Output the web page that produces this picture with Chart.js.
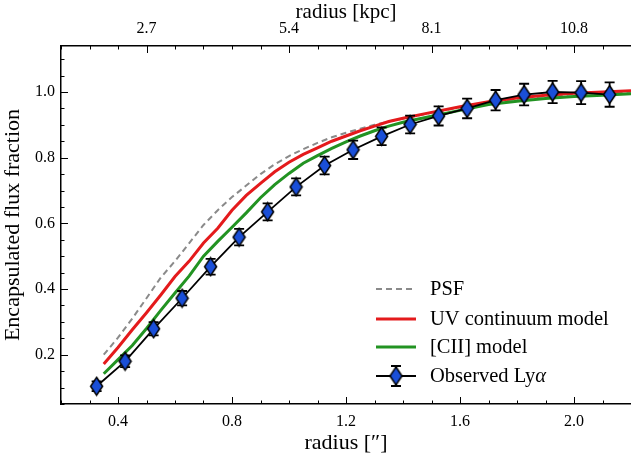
<!DOCTYPE html>
<html>
<head>
<meta charset="utf-8">
<title>Encapsulated flux fraction</title>
<script src="https://cdn.jsdelivr.net/npm/chart.js"></script>
<style>
  html, body { margin: 0; padding: 0; background: #fff; }
</style>
</head>
<body>
<canvas id="myChart" width="631" height="457"></canvas>
<script>
// observed Ly-alpha curve of growth
const obsRadius = [0.325, 0.425, 0.525, 0.625, 0.725, 0.825, 0.925, 1.025, 1.125, 1.225,
                   1.325, 1.425, 1.525, 1.625, 1.725, 1.825, 1.925, 2.025, 2.125];
const obsFlux = [0.104, 0.180, 0.279, 0.372, 0.468, 0.558, 0.635, 0.711, 0.776, 0.824,
                 0.865, 0.901, 0.927, 0.950, 0.975, 0.992, 1.000, 0.998, 0.992];
const obsErr = [0.015, 0.018, 0.020, 0.022, 0.024, 0.025, 0.026, 0.026, 0.027, 0.028,
                0.027, 0.027, 0.029, 0.030, 0.031, 0.033, 0.034, 0.035, 0.037];

// model curves
const modelRadius = [0.35, 0.40, 0.45, 0.50, 0.55, 0.60, 0.65, 0.70, 0.75, 0.80, 0.85, 0.90,
                     0.95, 1.00, 1.05, 1.10, 1.15, 1.20, 1.25, 1.30, 1.35, 1.40, 1.50, 1.60,
                     1.70, 1.80, 1.90, 2.00, 2.10, 2.20];
const psfFlux = [0.200, 0.252, 0.310, 0.372, 0.435, 0.485, 0.540, 0.595, 0.640, 0.680, 0.715, 0.750,
                 0.780, 0.805, 0.826, 0.845, 0.862, 0.876, 0.888, 0.900, 0.910, 0.919, 0.937, 0.953,
                 0.967, 0.979, 0.987, 0.993, 0.997, 1.001];
const uvFlux = [0.172, 0.222, 0.276, 0.328, 0.382, 0.438, 0.485, 0.540, 0.585, 0.640, 0.685, 0.722,
                0.757, 0.786, 0.810, 0.830, 0.850, 0.866, 0.882, 0.896, 0.910, 0.920, 0.938, 0.955,
                0.970, 0.982, 0.990, 0.996, 1.000, 1.004];
const ciiFlux = [0.142, 0.185, 0.228, 0.280, 0.335, 0.388, 0.440, 0.500, 0.545, 0.588, 0.632, 0.678,
                 0.718, 0.752, 0.783, 0.806, 0.828, 0.848, 0.866, 0.882, 0.896, 0.908, 0.926, 0.944,
                 0.962, 0.972, 0.980, 0.986, 0.990, 0.995];

// axis ticks
const radiusTicks = [0.4, 0.8, 1.2, 1.6, 2.0];
const fluxTicks = [0.2, 0.4, 0.6, 0.8, 1.0];
const kpcTickRadius = [0.5, 1.0, 1.5, 2.0];
const kpcTickLabels = ['2.7', '5.4', '8.1', '10.8'];

const serif = '"Liberation Serif", "DejaVu Serif", serif';
const blue = '#1a4fd8';

function pts(xs, ys) {
    return xs.map((x, i) => ({ x: x, y: ys[i] }));
}

// thin diamond marker
function makeDiamond(w, h) {
    const c = document.createElement('canvas');
    c.width = w + 3;
    c.height = h + 3;
    const g = c.getContext('2d');
    const cx = c.width / 2, cy = c.height / 2;
    g.beginPath();
    g.moveTo(cx, cy - h / 2);
    g.lineTo(cx + w / 2, cy);
    g.lineTo(cx, cy + h / 2);
    g.lineTo(cx - w / 2, cy);
    g.closePath();
    g.fillStyle = blue;
    g.fill();
    g.lineWidth = 1.5;
    g.strokeStyle = '#000';
    g.stroke();
    return c;
}
const diamond = makeDiamond(12, 18);

function drawCapBar(ctx, x, y1, y2, cap) {
    ctx.beginPath();
    ctx.moveTo(x, y1); ctx.lineTo(x, y2);
    ctx.moveTo(x - cap, y1); ctx.lineTo(x + cap, y1);
    ctx.moveTo(x - cap, y2); ctx.lineTo(x + cap, y2);
    ctx.stroke();
}

const errorBars = {
    id: 'errorBars',
    beforeDatasetDraw(chart, args) {
        if (args.index !== 3) return;
        const { ctx, scales: { x, y } } = chart;
        ctx.save();
        ctx.strokeStyle = '#000';
        ctx.lineWidth = 1.8;
        obsRadius.forEach((r, i) => {
            drawCapBar(ctx, x.getPixelForValue(r),
                y.getPixelForValue(obsFlux[i] + obsErr[i]),
                y.getPixelForValue(obsFlux[i] - obsErr[i]), 5);
        });
        ctx.restore();
    }
};

// matplotlib style inward ticks
const inwardTicks = {
    id: 'inwardTicks',
    afterDraw(chart) {
        const { ctx, chartArea: a, scales: { x, x2, y } } = chart;
        ctx.save();
        ctx.strokeStyle = '#000';
        ctx.lineWidth = 1;
        const tick = (px, py, dx, dy) => {
            ctx.beginPath();
            ctx.moveTo(px, py);
            ctx.lineTo(px + dx, py + dy);
            ctx.stroke();
        };
        for (let v = 0.2; v <= 2.2001; v += 0.1) {
            const major = radiusTicks.some(t => Math.abs(t - v) < 1e-6);
            const px = Math.round(x.getPixelForValue(v)) + 0.5;
            tick(px, a.bottom, 0, major ? -7 : -3.5);
        }
        for (let v = 0.2; v <= 2.2001; v += 0.1) {
            const major = kpcTickRadius.some(t => Math.abs(t - v) < 1e-6);
            const px = Math.round(x2.getPixelForValue(v)) + 0.5;
            tick(px, a.top, 0, major ? 7 : 3.5);
        }
        for (let v = 0.05; v <= 1.14; v += 0.05) {
            const major = fluxTicks.some(t => Math.abs(t - v) < 1e-6);
            const py = Math.round(y.getPixelForValue(v)) + 0.5;
            tick(a.left, py, major ? 7 : 3.5, 0);
        }
        ctx.restore();
    }
};

const legendBox = {
    id: 'legendBox',
    afterDraw(chart) {
        const ctx = chart.ctx;
        const x0 = 376, x1 = 416, tx = 430;
        const rows = [289, 319, 347, 376];
        ctx.save();
        ctx.font = '20.5px ' + serif;
        ctx.fillStyle = '#000';
        ctx.textBaseline = 'middle';
        const sets = chart.data.datasets;
        for (let i = 0; i < 3; i++) {
            const d = sets[i];
            ctx.strokeStyle = d.borderColor;
            ctx.lineWidth = d.borderWidth;
            ctx.setLineDash(d.borderDash || []);
            ctx.beginPath();
            ctx.moveTo(x0, rows[i]);
            ctx.lineTo(x1, rows[i]);
            ctx.stroke();
            ctx.setLineDash([]);
            ctx.fillText(d.label, tx, rows[i] + 1);
        }
        const yo = rows[3];
        ctx.strokeStyle = '#000';
        ctx.lineWidth = 1.8;
        ctx.beginPath();
        ctx.moveTo(x0, yo); ctx.lineTo(x1, yo);
        ctx.stroke();
        drawCapBar(ctx, (x0 + x1) / 2, yo - 10, yo + 10, 5);
        ctx.drawImage(diamond, (x0 + x1) / 2 - diamond.width / 2, yo - diamond.height / 2);
        ctx.fillText('Observed Ly', tx, yo + 1);
        const w = ctx.measureText('Observed Ly').width;
        ctx.font = 'italic 20.5px ' + serif;
        ctx.fillText('α', tx + w, yo + 1);
        ctx.restore();
    }
};

function noPad(s) {
    s.paddingLeft = 0;
    s.paddingRight = 0;
    s.paddingTop = 0;
    s.paddingBottom = 0;
}

const ctx = document.getElementById('myChart').getContext('2d');

const chart = new Chart(ctx, {
    type: 'line',
    data: {
        datasets: [{
            label: 'PSF',
            data: pts(modelRadius, psfFlux),
            borderColor: '#8a8a8a',
            borderWidth: 2,
            borderDash: [6, 4],
            pointRadius: 0,
            order: 3
        }, {
            label: 'UV continuum model',
            data: pts(modelRadius, uvFlux),
            borderColor: '#e41a1c',
            borderWidth: 3,
            pointRadius: 0,
            order: 2
        }, {
            label: '[CII] model',
            data: pts(modelRadius, ciiFlux),
            borderColor: '#229322',
            borderWidth: 3,
            pointRadius: 0,
            order: 1
        }, {
            label: 'Observed Lyα',
            data: pts(obsRadius, obsFlux),
            borderColor: '#000',
            borderWidth: 1.8,
            pointStyle: diamond,
            pointRadius: 8,
            order: 0
        }]
    },
    options: {
        responsive: false,
        animation: false,
        layout: { padding: 0, autoPadding: false },
        plugins: {
            legend: { display: false },
            tooltip: { enabled: false }
        },
        scales: {
            x: {
                type: 'linear',
                position: 'bottom',
                min: 0.2,
                max: 2.2,
                afterBuildTicks: s => { s.ticks = radiusTicks.map(v => ({ value: v })); },
                afterFit: s => { s.height = 53; noPad(s); },
                grid: { display: false, drawTicks: false },
                border: { display: true, color: '#000', width: 1.5 },
                ticks: {
                    padding: 8,
                    color: '#000',
                    font: { family: serif, size: 16 },
                    maxRotation: 0,
                    callback: v => v.toFixed(1)
                },
                title: {
                    display: true,
                    text: 'radius [″]',
                    color: '#000',
                    font: { family: serif, size: 22 },
                    padding: { top: 0, bottom: 1 }
                }
            },
            x2: {
                type: 'linear',
                position: 'top',
                min: 0.2,
                max: 2.2,
                afterBuildTicks: s => { s.ticks = kpcTickRadius.map(v => ({ value: v })); },
                afterFit: s => { s.height = 46; noPad(s); },
                grid: { display: false, drawTicks: false },
                border: { display: true, color: '#000', width: 1.5 },
                ticks: {
                    padding: 8,
                    color: '#000',
                    font: { family: serif, size: 16 },
                    maxRotation: 0,
                    callback: (v, i) => kpcTickLabels[i]
                },
                title: {
                    display: true,
                    text: 'radius [kpc]',
                    color: '#000',
                    font: { family: serif, size: 21 },
                    padding: { top: 0, bottom: 0 }
                }
            },
            y: {
                min: 0.05,
                max: 1.14,
                afterBuildTicks: s => { s.ticks = fluxTicks.map(v => ({ value: v })); },
                afterFit: s => { s.width = 61; noPad(s); },
                grid: { display: false, drawTicks: false },
                border: { display: true, color: '#000', width: 1.5 },
                ticks: {
                    padding: 6,
                    color: '#000',
                    font: { family: serif, size: 16 },
                    callback: v => v.toFixed(1)
                },
                title: {
                    display: true,
                    text: 'Encapsulated flux fraction',
                    color: '#000',
                    font: { family: serif, size: 22 },
                    padding: { top: 0, bottom: 0, left: 7 }
                }
            }
        }
    },
    plugins: [errorBars, inwardTicks, legendBox]
});
</script>
</body>
</html>
